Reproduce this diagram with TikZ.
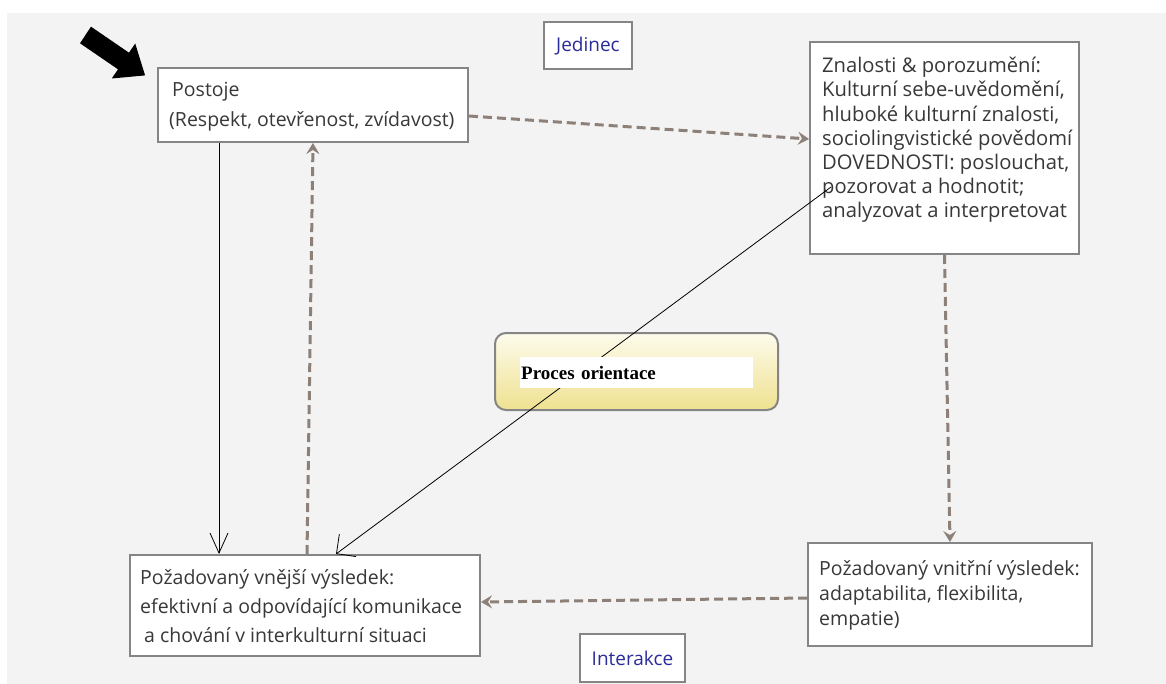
\documentclass[tikz,border=0pt]{standalone}
\usepackage{fontspec}
\setmainfont{Open Sans}
\newfontfamily\procfont{Liberation Serif}
\usetikzlibrary{arrows.meta,calc}
\definecolor{bgc}{HTML}{F3F3F3}
\definecolor{boxline}{HTML}{858585}
\definecolor{txt}{HTML}{383838}
\definecolor{dashc}{HTML}{8C8079}
\definecolor{bluet}{HTML}{2B2B9A}
\definecolor{proctop}{HTML}{FDFBEC}
\definecolor{procbot}{HTML}{EFE190}
\tikzset{
  box/.style={draw=boxline, line width=2pt, fill=white, inner sep=0pt, anchor=center},
  boxtext/.style={text=txt, align=left, anchor=west, inner sep=0pt},
  tagbox/.style={draw=boxline, line width=2pt, fill=white, text=bluet, inner sep=0pt, font=\fontsize{19}{22}\selectfont},
  dasharrow/.style={draw=dashc, line width=3pt, dash pattern=on 9pt off 5pt, -{Stealth[length=11pt,width=13pt,inset=4pt]}},
  thinarrow/.style={draw=black, line width=0.8pt, -{Straight Barb[length=20pt,width=18pt,line width=0.8pt]}},
  diagarrow/.style={draw=black, line width=0.8pt, -{Straight Barb[length=14pt,width=28pt,line width=0.8pt]}},
}
\begin{document}
\begin{tikzpicture}[x=1pt,y=-1pt]
\useasboundingbox (0,0) rectangle (1166,684);
\fill[white] (0,0) rectangle (1166,684);
\fill[bgc] (7,13) rectangle (1166,684);

% fat black arrow
\fill[black] (91,26.7) -- (129,52.7) -- (135.2,43.5) -- (145.1,75.4) -- (111.8,78.5) -- (118,69.3) -- (80,43.3) -- cycle;

% boxes
\node[box, minimum width=310pt, minimum height=74pt] (postoje) at (313,105) {};
\node[boxtext, font=\fontsize{19.5}{30}\selectfont] (postojeT) at (169,107)
  {\hspace*{3pt}Postoje\\(Respekt, otevřenost, zvídavost)};

\node[box, minimum width=269pt, minimum height=212pt] (znal) at (944.5,148) {};
\node[boxtext, font=\fontsize{20.2}{24.2}\selectfont] (znalT) at (822,140)
  {Znalosti \& porozumění:\\Kulturní sebe-uvědomění,\\hluboké kulturní znalosti,\\sociolingvistické povědomí\\DOVEDNOSTI: poslouchat,\\pozorovat a hodnotit;\\analyzovat a interpretovat};

\node[box, minimum width=350pt, minimum height=101pt] (vnejsi) at (305,605.5) {};
\node[boxtext, font=\fontsize{19.5}{29}\selectfont] (vnejsiT) at (140,606)
  {Požadovaný vnější výsledek:\\efektivní a odpovídající komunikace\\\hspace*{4pt}a chování v interkulturní situaci};

\node[box, minimum width=284pt, minimum height=103pt] (vnitrni) at (950,594.5) {};
\node[boxtext, font=\fontsize{19.5}{25}\selectfont] (vnitrniT) at (819,595)
  {Požadovaný vnitřní výsledek:\\adaptabilita, flexibilita,\\empatie)};

\node[tagbox, minimum width=88pt, minimum height=47pt] (jedinec) at (588,46) {Jedinec};
\node[tagbox, minimum width=105pt, minimum height=48pt] (interakce) at (632.5,658) {Interakce};

\node[draw=boxline, line width=2pt, rounded corners=11pt, top color=proctop, bottom color=procbot,
  minimum width=283pt, minimum height=77pt] (proces) at (636.5,371.5) {};

% connectors
\coordinate (dstart) at (831,187);
\draw[diagarrow] (dstart) -- ([xshift=31pt]vnejsi.north);
\draw[thinarrow] ([xshift=-94pt]postoje.south) -- ([xshift=-86pt]vnejsi.north);
\draw[dasharrow] ([xshift=2pt]vnejsi.north) -- (postoje.south);
\draw[dasharrow] ([yshift=-11pt]postoje.east) -- ([yshift=9pt]znal.west);
\draw[dasharrow] (znal.south) -- (vnitrni.north);
\draw[dasharrow] ([yshift=-3.5pt]vnitrni.west) -- ([yshift=3.5pt]vnejsi.east);

% process label on top
\node[fill=white, anchor=west, minimum width=233pt, minimum height=31pt, text width=231pt,
  inner xsep=1pt, inner ysep=0pt, align=left, text=black,
  font=\procfont\bfseries\fontsize{19}{22}\selectfont] (proclabel) at (520,372.5) {Proces orientace};
\end{tikzpicture}
\end{document}
